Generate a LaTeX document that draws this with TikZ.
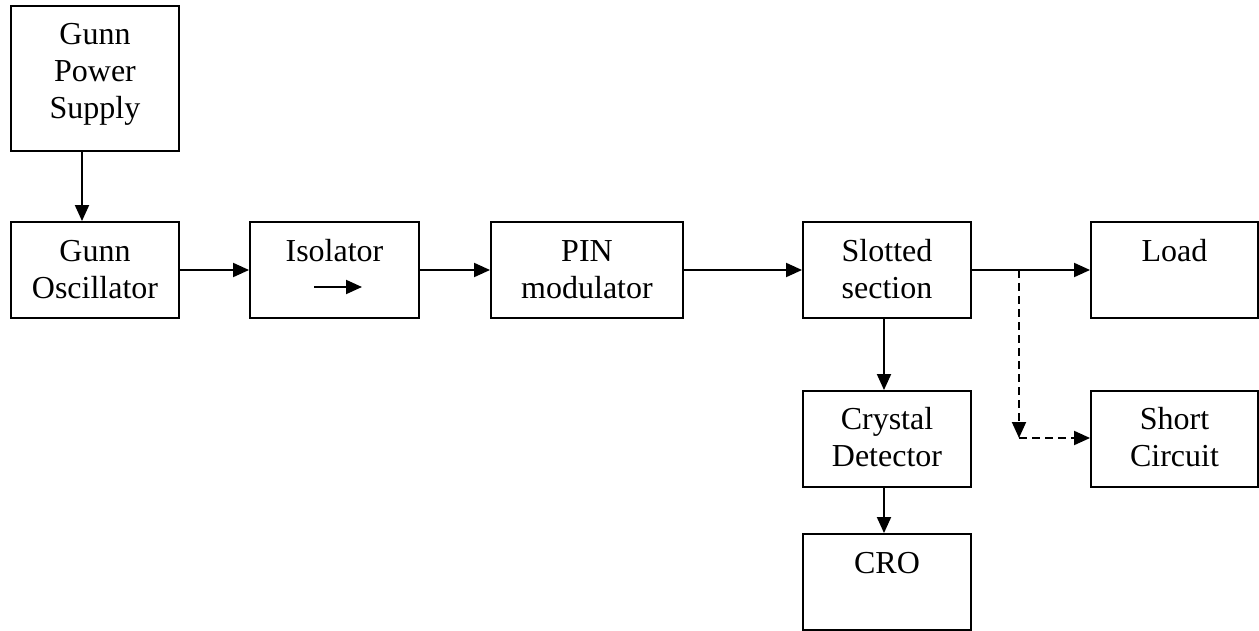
\documentclass[tikz,border=0pt]{standalone}
\usepackage{fontspec}
\setmainfont{Liberation Serif}
\usetikzlibrary{arrows.meta,calc}
\begin{document}
\begin{tikzpicture}[x=1pt,y=-1pt,
  box/.style={draw, line width=1.9pt, inner sep=0pt, minimum width=168pt, minimum height=96pt},
  lbl/.style={font=\fontsize{32}{37}\selectfont, align=center, inner sep=0pt, anchor=base},
  arr/.style={line width=1.9pt, -{Triangle[length=16pt,width=14pt]}},
  dsh/.style={arr, dash pattern=on 8pt off 5pt}]
\useasboundingbox (0,0) rectangle (1259,631);
% boxes
\node[box, minimum height=145pt] (gps) at (95,78.5) {};
\node[box] (gosc) at (95,270) {};
\node[box, minimum width=169pt] (iso) at (334.5,270) {};
\node[box, minimum width=192pt] (pin) at (587,270) {};
\node[box] (slot) at (887,270) {};
\node[box, minimum width=167pt] (load) at (1174.5,270) {};
\node[box] (cry) at (887,439) {};
\node[box, minimum width=167pt] (short) at (1174.5,439) {};
\node[box] (cro) at (887,582) {};
% labels (base anchor = baseline of the last line)
\node[lbl] (gpsT) at ($(gps.north)+(0,113)$) {Gunn\\Power\\Supply};
\node[lbl] (goscT) at ($(gosc.north)+(0,77)$) {Gunn\\Oscillator};
\node[lbl] (isoT) at ($(iso.north)+(0,40)$) {Isolator};
\node[lbl] (pinT) at ($(pin.north)+(0,77)$) {PIN\\modulator};
\node[lbl] (slotT) at ($(slot.north)+(0,77)$) {Slotted\\section};
\node[lbl] (loadT) at ($(load.north)+(0,40)$) {Load};
\node[lbl] (cryT) at ($(cry.north)+(0,76)$) {Crystal\\Detector};
\node[lbl] (shortT) at ($(short.north)+(0,76)$) {Short\\Circuit};
\node[lbl] (croT) at ($(cro.north)+(0,40)$) {CRO};
% isolator direction arrow
\coordinate (isoA) at ($(iso.center)+(-20.5,17)$);
\coordinate (isoB) at ($(iso.center)+(27.5,17)$);
\draw[arr] (isoA) -- (isoB);
% connectors
\draw[arr] ($(gps.south)+(-13,0)$) -- ($(gosc.north)+(-13,0)$);
\draw[arr] (gosc.east) -- (iso.west);
\draw[arr] (iso.east) -- (pin.west);
\draw[arr] (pin.east) -- (slot.west);
\draw[arr] (slot.east) -- (load.west);
\draw[arr] ($(slot.south)+(-3,0)$) -- ($(cry.north)+(-3,0)$);
\draw[arr] ($(cry.south)+(-3,0)$) -- ($(cro.north)+(-3,0)$);
% dashed branch
\coordinate (br) at (1019,270);
\coordinate (bd) at (1019,438);
\draw[dsh] (br) -- (bd);
\draw[dsh] (bd) -- (bd -| short.west);
\end{tikzpicture}
\end{document}
